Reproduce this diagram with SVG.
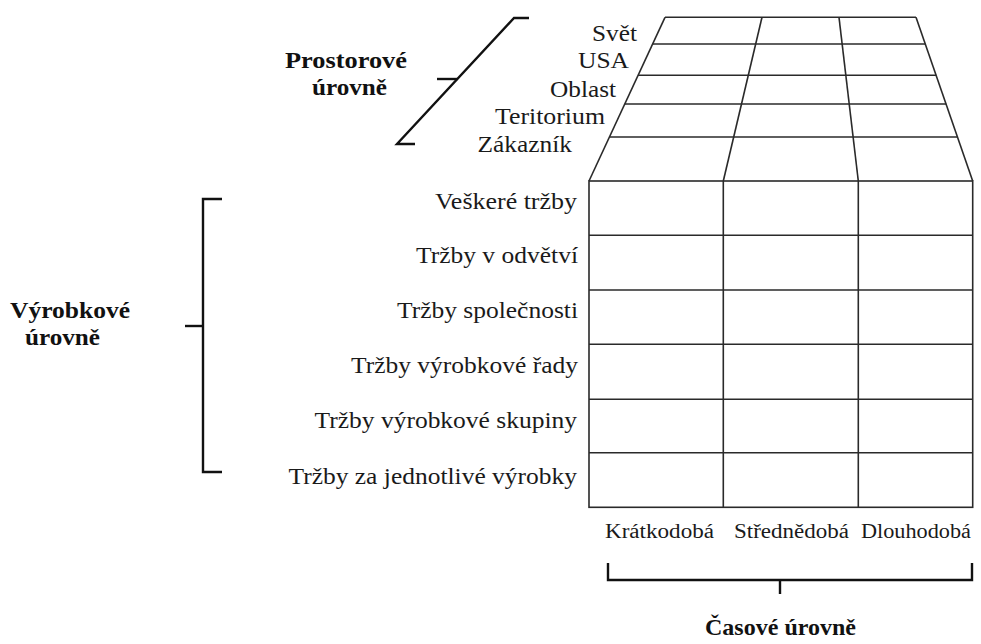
<svg xmlns="http://www.w3.org/2000/svg" width="981" height="644" viewBox="0 0 981 644">
  <style>
    .grid { fill: none; stroke: #2a2a2a; stroke-width: 1.6; }
    .brace { fill: none; stroke: #111; stroke-width: 2.4; stroke-linejoin: miter; }
    text { font-family: "Liberation Serif", "Times New Roman", serif; fill: #1a1a1a; }
    .lbl text { font-size: 23px; }
    .col text { font-size: 20px; }
    .head text { font-size: 23px; font-weight: bold; fill: #111; }
  </style>
  <rect width="981" height="644" fill="#ffffff"/>

  <!-- Perspective grid: spatial levels (trapezoid on top) -->
  <g id="grid-spatial" class="grid">
    <line x1="665" y1="17.3" x2="916" y2="17.3"/>
    <line x1="652.6" y1="44" x2="925.3" y2="44"/>
    <line x1="638.1" y1="75.3" x2="936.2" y2="75.3"/>
    <line x1="624.7" y1="104" x2="946.2" y2="104"/>
    <line x1="609.4" y1="137" x2="957.7" y2="137"/>
    <line x1="665" y1="17.3" x2="589" y2="181"/>
    <line x1="762" y1="17.3" x2="723.3" y2="181"/>
    <line x1="839" y1="17.3" x2="858.3" y2="181"/>
    <line x1="916" y1="17.3" x2="972.7" y2="181"/>
  </g>

  <!-- Front grid: product levels x time levels -->
  <g id="grid-product" class="grid">
    <rect x="589" y="181" width="383.7" height="326.3"/>
    <line x1="723.3" y1="181" x2="723.3" y2="507.3"/>
    <line x1="858.3" y1="181" x2="858.3" y2="507.3"/>
    <line x1="589" y1="235.3" x2="972.7" y2="235.3"/>
    <line x1="589" y1="290" x2="972.7" y2="290"/>
    <line x1="589" y1="344.3" x2="972.7" y2="344.3"/>
    <line x1="589" y1="399.3" x2="972.7" y2="399.3"/>
    <line x1="589" y1="452.7" x2="972.7" y2="452.7"/>
  </g>

  <!-- Spatial level labels -->
  <g id="labels-spatial" class="lbl">
    <text x="592" y="41" textLength="45" lengthAdjust="spacingAndGlyphs">Svět</text>
    <text x="578" y="68" textLength="51" lengthAdjust="spacingAndGlyphs">USA</text>
    <text x="550" y="96.5" textLength="66" lengthAdjust="spacingAndGlyphs">Oblast</text>
    <text x="495" y="124" textLength="110" lengthAdjust="spacingAndGlyphs">Teritorium</text>
    <text x="477.5" y="152" textLength="94.5" lengthAdjust="spacingAndGlyphs">Zákazník</text>
  </g>

  <!-- Product level labels -->
  <g id="labels-product" class="lbl">
    <text x="435" y="209" textLength="142" lengthAdjust="spacingAndGlyphs">Veškeré tržby</text>
    <text x="416" y="263" textLength="162" lengthAdjust="spacingAndGlyphs">Tržby v odvětví</text>
    <text x="397" y="318" textLength="181" lengthAdjust="spacingAndGlyphs">Tržby společnosti</text>
    <text x="351" y="373" textLength="227" lengthAdjust="spacingAndGlyphs">Tržby výrobkové řady</text>
    <text x="314.6" y="428" textLength="262.4" lengthAdjust="spacingAndGlyphs">Tržby výrobkové skupiny</text>
    <text x="288.5" y="484" textLength="288.5" lengthAdjust="spacingAndGlyphs">Tržby za jednotlivé výrobky</text>
  </g>

  <!-- Time level labels -->
  <g id="labels-time" class="col">
    <text x="605" y="538" textLength="109" lengthAdjust="spacingAndGlyphs">Krátkodobá</text>
    <text x="734" y="538" textLength="115" lengthAdjust="spacingAndGlyphs">Střednědobá</text>
    <text x="861" y="538" textLength="110" lengthAdjust="spacingAndGlyphs">Dlouhodobá</text>
  </g>

  <!-- Group headings -->
  <g id="heading-spatial" class="head">
    <text x="285" y="68" textLength="122" lengthAdjust="spacingAndGlyphs">Prostorové</text>
    <text x="312" y="95" textLength="75" lengthAdjust="spacingAndGlyphs">úrovně</text>
  </g>
  <g id="heading-product" class="head">
    <text x="10" y="318" textLength="120" lengthAdjust="spacingAndGlyphs">Výrobkové</text>
    <text x="25" y="345" textLength="75" lengthAdjust="spacingAndGlyphs">úrovně</text>
  </g>
  <g id="heading-time" class="head">
    <text x="705" y="635" textLength="151" lengthAdjust="spacingAndGlyphs">Časové úrovně</text>
  </g>

  <!-- Brackets tying headings to their levels -->
  <g id="connectors" class="brace">
    <path d="M529,18 L514,18 L397,144 L415,144"/>
    <path d="M437,79 L457.4,79"/>
    <path d="M222,199 H203 V472 H222"/>
    <path d="M185,326 H203"/>
    <path d="M608,563 V580 H972 V563"/>
    <path d="M780,580 V594"/>
  </g>
</svg>
